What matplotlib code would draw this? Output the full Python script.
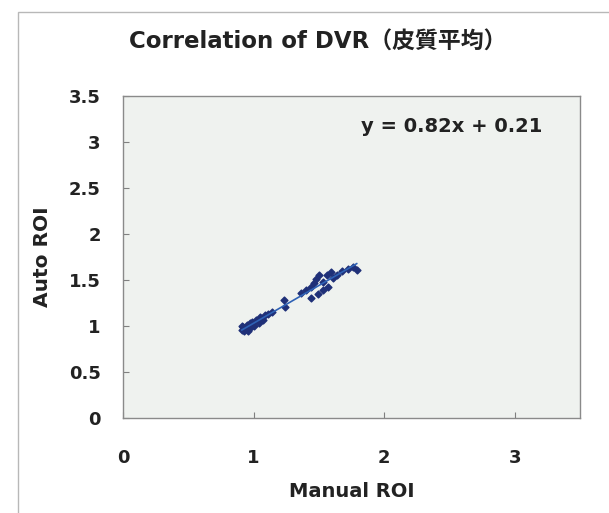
import matplotlib
matplotlib.use("Agg")
import matplotlib.pyplot as plt
import numpy as np

plt.rcParams['font.family'] = ['DejaVu Sans', 'Noto Sans CJK JP']

# Manual ROI vs Auto ROI (DVR, cortical average)
manual_roi = [0.91, 0.92, 0.93, 0.95, 0.95, 0.97, 0.98, 0.99, 1.00, 1.02,
              1.04, 1.05, 1.07, 1.09, 1.11, 1.14, 0.91, 0.96,
              1.23, 1.24,
              1.44, 1.49, 1.44, 1.46, 1.48, 1.50, 1.53, 1.53, 1.57, 1.56,
              1.59, 1.61, 1.64, 1.68, 1.72, 1.76, 1.79, 1.40, 1.36]
auto_roi = [0.96, 0.99, 0.95, 1.01, 0.97, 1.03, 0.99, 1.04, 1.00, 1.07,
            1.03, 1.10, 1.07, 1.12, 1.13, 1.15, 1.00, 0.95,
            1.28, 1.21,
            1.30, 1.35, 1.42, 1.47, 1.51, 1.55, 1.48, 1.39, 1.42, 1.55,
            1.59, 1.52, 1.55, 1.60, 1.62, 1.64, 1.61, 1.39, 1.36]
slope = 0.82
intercept = 0.21

x_ticks = [0, 1, 2, 3]
y_ticks = [0, 0.5, 1, 1.5, 2, 2.5, 3, 3.5]
y_tick_labels = ['0', '0.5', '1', '1.5', '2', '2.5', '3', '3.5']

fig = plt.figure(figsize=(6.09, 5.13), dpi=100)
ax = fig.add_axes([123 / 609, 1 - 418 / 513, (580 - 123) / 609, (418 - 96) / 513])
ax.set_facecolor('#eff2ef')

# outer chart frame (left and top visible)
fig.add_artist(plt.Rectangle((18 / 609, -0.1), 1.2, 1 - 12 / 513 + 0.1,
                             transform=fig.transFigure, fill=False,
                             edgecolor='#b8b8b8', linewidth=1))

ax.scatter(manual_roi, auto_roi, marker='D', s=12, color='#1f3078',
           edgecolors='#1f3078', zorder=3)

xs = np.array([min(manual_roi), max(manual_roi)])
ax.plot(xs, slope * xs + intercept, color='#2f62b5', linewidth=1.2, zorder=4)

ax.text((542 - 123) / (580 - 123), (418 - 127) / (418 - 96), 'y = 0.82x + 0.21',
        transform=ax.transAxes, ha='right', va='center', fontsize=14,
        fontweight='bold', color='#222222')

ax.set_xlim(0, 3.5)
ax.set_ylim(0, 3.5)
ax.set_xticks(x_ticks)
ax.set_yticks(y_ticks)
ax.set_yticklabels(y_tick_labels)
ax.tick_params(direction='in', length=4, color='#808080', labelsize=13,
               labelcolor='#222222')
ax.tick_params(axis='x', pad=22)
ax.tick_params(axis='y', pad=16)
for lab in ax.get_xticklabels() + ax.get_yticklabels():
    lab.set_fontweight('bold')
for sp in ax.spines.values():
    sp.set_color('#8a8a8a')
    sp.set_linewidth(1)

ax.set_xlabel('Manual ROI', fontsize=14, fontweight='bold', color='#222222', labelpad=11)
ax.set_ylabel('Auto ROI', fontsize=14.5, fontweight='bold', color='#222222', labelpad=12)

fig.text(318 / 609, 1 - 42 / 513, 'Correlation of DVR（皮質平均）', ha='center',
         va='center', fontsize=16.5, fontweight='bold', color='#222222')

fig.savefig('out.png', dpi=100)
